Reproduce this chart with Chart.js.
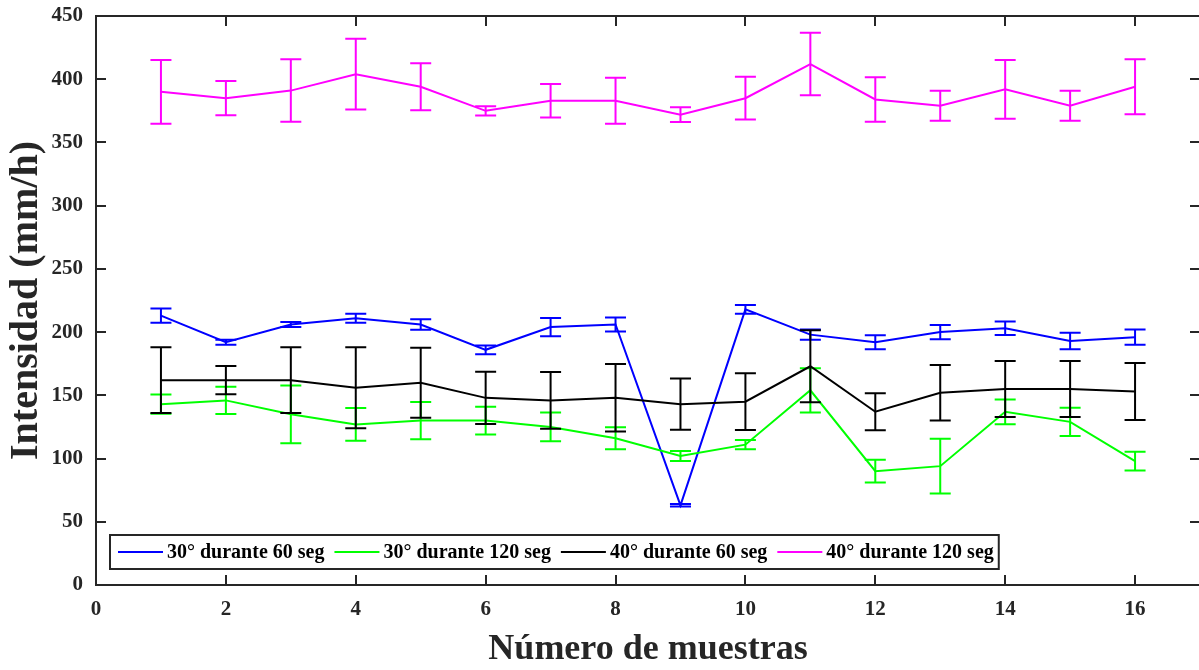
<!DOCTYPE html>
<html>
<head>
<meta charset="utf-8">
<script src="https://cdn.jsdelivr.net/npm/chart.js@4.4.1/dist/chart.umd.min.js"></script>
<style>
  html, body { margin: 0; padding: 0; background: #ffffff; overflow: hidden; }
  canvas { display: block; }
</style>
</head>
<body>
<canvas id="chart" width="1206" height="670"></canvas>
<script>
// ---- data ----
const muestras = [1, 2, 3, 4, 5, 6, 7, 8, 9, 10, 11, 12, 13, 14, 15, 16];

const labels = [
  "30° durante 60 seg",
  "30° durante 120 seg",
  "40° durante 60 seg",
  "40° durante 120 seg",
];
const colors = ["#0000ff", "#00ff00", "#000000", "#ff00ff"];

const s30_60 = [213, 192, 206, 211, 206, 186, 204, 206, 63, 218, 198, 192, 200, 203, 193, 196];
const e30_60 = [5.6, 2, 2, 3.5, 4.2, 3.5, 7.2, 5.5, 1, 3.5, 4, 5.6, 5.7, 5.3, 6.5, 6];

const s30_120 = [143, 146, 135, 127, 130, 130, 125, 116, 102, 111, 154, 90, 94, 137, 129, 98];
const e30_120 = [7.6, 10.8, 22.8, 13, 14.8, 11, 11.4, 8.7, 4, 3.7, 17.5, 9, 21.6, 9.8, 11.2, 7.4];

const s40_60 = [162, 162, 162, 156, 160, 148, 146, 148, 143, 145, 173, 137, 152, 155, 155, 153];
const e40_60 = [26, 11.2, 26, 32, 27.7, 20.7, 22.5, 26.7, 20.3, 22.4, 28.5, 14.7, 22, 22.2, 22.2, 22.5];

const s40_120 = [390, 385, 391, 404, 394, 375, 383, 383, 372, 385, 412, 384, 379, 392, 379, 394];
const e40_120 = [25.2, 13.5, 24.7, 28, 18.6, 3.7, 13.2, 18.2, 5.8, 16.9, 24.7, 17.6, 11.9, 23.3, 11.9, 21.8];

const xTicks = [0, 2, 4, 6, 8, 10, 12, 14, 16];
const yTicks = [0, 50, 100, 150, 200, 250, 300, 350, 400, 450];

const xTitle = "Número de muestras";
const yTitle = "Intensidad (mm/h)";

const series = [s30_60, s30_120, s40_60, s40_120];
const errors = [e30_60, e30_120, e40_60, e40_120];

const AXIS = "#262626";
const SERIF = "'Liberation Serif', 'Times New Roman', serif";

// error bars: vertical stem + caps, drawn right after each line
const errorBars = {
  id: "errorBars",
  afterDatasetDraw(chart, args) {
    const i = args.index;
    const err = errors[i];
    const vals = series[i];
    const xs = chart.scales.x;
    const ys = chart.scales.y;
    const ctx = chart.ctx;
    const cap = 10.5;
    ctx.save();
    ctx.strokeStyle = colors[i];
    ctx.lineWidth = 2;
    ctx.beginPath();
    muestras.forEach((m, k) => {
      const px = xs.getPixelForValue(m);
      const top = ys.getPixelForValue(vals[k] + err[k]);
      const bot = ys.getPixelForValue(vals[k] - err[k]);
      ctx.moveTo(px, top);
      ctx.lineTo(px, bot);
      ctx.moveTo(px - cap, top);
      ctx.lineTo(px + cap, top);
      ctx.moveTo(px - cap, bot);
      ctx.lineTo(px + cap, bot);
    });
    ctx.stroke();
    ctx.restore();
  },
};

// box around plot + inward ticks on all four sides (MATLAB style)
const boxAxes = {
  id: "boxAxes",
  afterDraw(chart) {
    const { ctx, chartArea: a } = chart;
    const xs = chart.scales.x;
    const ys = chart.scales.y;
    const len = 10;
    ctx.save();
    ctx.strokeStyle = AXIS;
    ctx.lineWidth = 2;
    ctx.beginPath();
    xTicks.forEach((v) => {
      const px = Math.round(xs.getPixelForValue(v));
      ctx.moveTo(px, a.bottom);
      ctx.lineTo(px, a.bottom - len);
      ctx.moveTo(px, a.top);
      ctx.lineTo(px, a.top + len);
    });
    yTicks.forEach((v) => {
      const py = Math.round(ys.getPixelForValue(v));
      ctx.moveTo(a.left, py);
      ctx.lineTo(a.left + len, py);
      ctx.moveTo(a.right, py);
      ctx.lineTo(a.right - len, py);
    });
    ctx.stroke();
    ctx.strokeRect(a.left, a.top, a.right - a.left, a.bottom - a.top);
    ctx.restore();
  },
};

// legend box inside the plot, bottom-left
const boxLegend = {
  id: "boxLegend",
  afterDraw(chart) {
    const { ctx, chartArea: a } = chart;
    const x0 = a.left + 14;
    const y0 = 535;
    const h = 34;
    const lineLen = 45;
    ctx.save();
    ctx.font = "bold 20px " + SERIF;
    ctx.textBaseline = "middle";
    let x = x0 + 8;
    const items = [];
    labels.forEach((t, i) => {
      const w = ctx.measureText(t).width;
      items.push({ t, i, x, w });
      x += lineLen + 4 + w + 10;
    });
    const x1 = x - 5;
    ctx.fillStyle = "#ffffff";
    ctx.fillRect(x0, y0, x1 - x0, h);
    ctx.strokeStyle = AXIS;
    ctx.lineWidth = 2;
    ctx.strokeRect(x0, y0, x1 - x0, h);
    items.forEach((it) => {
      const cy = y0 + h / 2;
      ctx.strokeStyle = colors[it.i];
      ctx.lineWidth = 2;
      ctx.beginPath();
      ctx.moveTo(it.x, cy);
      ctx.lineTo(it.x + lineLen, cy);
      ctx.stroke();
      ctx.fillStyle = "#000000";
      ctx.fillText(it.t, it.x + lineLen + 4, cy + 1);
    });
    ctx.restore();
  },
};

const order = [4, 3, 2, 1]; // later series drawn on top, as in the original

new Chart(document.getElementById("chart"), {
  type: "line",
  data: {
    datasets: series.map((vals, i) => ({
      label: labels[i],
      data: muestras.map((m, k) => ({ x: m, y: vals[k] })),
      borderColor: colors[i],
      backgroundColor: colors[i],
      borderWidth: 2,
      pointRadius: 0,
      tension: 0,
      fill: false,
      order: order[i],
    })),
  },
  options: {
    responsive: false,
    animation: false,
    devicePixelRatio: 1,
    layout: { padding: { left: 0, top: 16, right: 6, bottom: 0 } },
    plugins: {
      legend: { display: false },
      tooltip: { enabled: false },
    },
    scales: {
      x: {
        type: "linear",
        min: 0,
        max: 17,
        afterBuildTicks: (s) => { s.ticks = xTicks.map((v) => ({ value: v })); },
        afterFit: (s) => { s.height = 85; s.paddingLeft = 0; s.paddingRight = 0; },
        grid: { display: false, drawTicks: false },
        border: { display: false },
        ticks: {
          padding: 12,
          maxRotation: 0,
          autoSkip: false,
          color: AXIS,
          font: { family: SERIF, size: 21, weight: "bold" },
        },
        title: {
          display: true,
          text: xTitle,
          color: AXIS,
          padding: { top: 0, bottom: 0 },
          font: { family: SERIF, size: 36, weight: "bold", lineHeight: 1.1 },
        },
      },
      y: {
        min: 0,
        max: 450,
        afterBuildTicks: (s) => { s.ticks = yTicks.map((v) => ({ value: v })); },
        afterFit: (s) => { s.width = 96; s.paddingTop = 0; s.paddingBottom = 0; },
        grid: { display: false, drawTicks: false },
        border: { display: false },
        ticks: {
          padding: 13,
          autoSkip: false,
          color: AXIS,
          font: { family: SERIF, size: 21, weight: "bold" },
        },
        title: {
          display: true,
          text: yTitle,
          color: AXIS,
          padding: { top: 3, bottom: 0 },
          font: { family: SERIF, size: 40, weight: "bold" },
        },
      },
    },
  },
  plugins: [errorBars, boxAxes, boxLegend],
});
</script>
</body>
</html>
